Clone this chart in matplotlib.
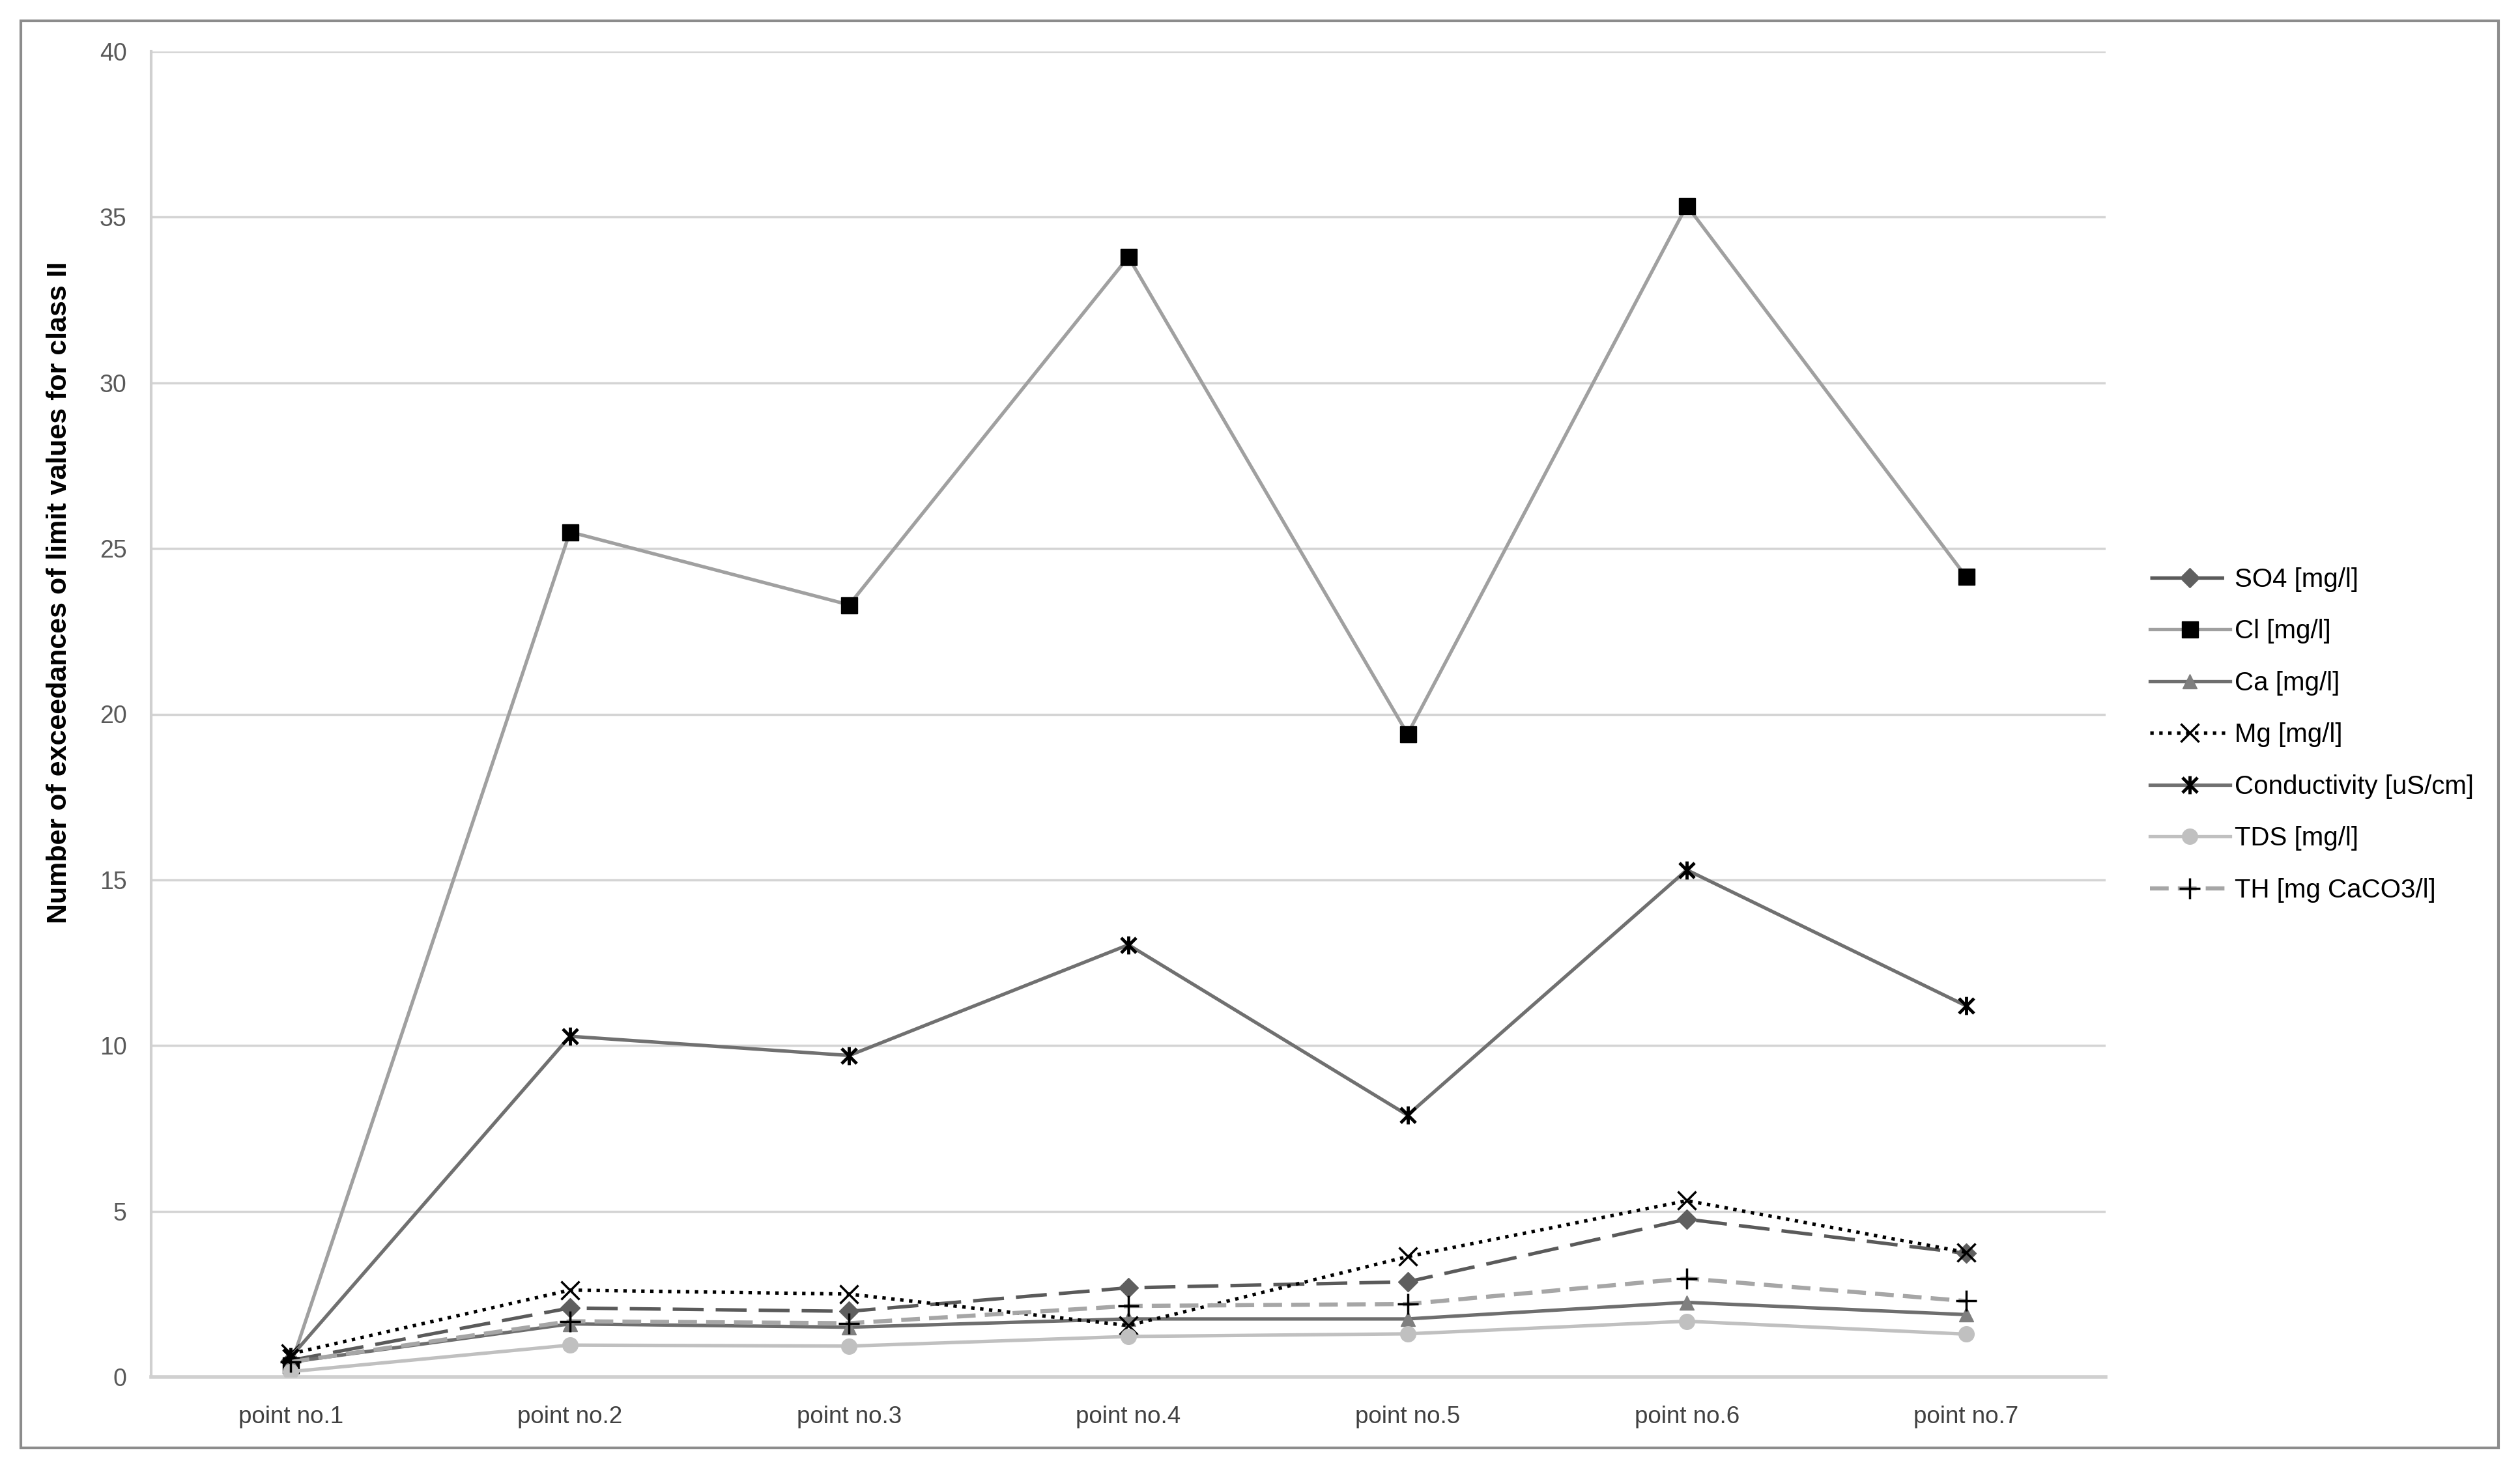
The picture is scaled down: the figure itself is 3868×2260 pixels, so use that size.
import matplotlib
matplotlib.use("Agg")
import matplotlib.pyplot as plt
from matplotlib.path import Path
from matplotlib.patches import Rectangle

categories = ["point no.1", "point no.2", "point no.3", "point no.4",
              "point no.5", "point no.6", "point no.7"]

so4 = [0.5, 2.08, 1.98, 2.69, 2.87, 4.76, 3.73]
cl = [0.35, 25.5, 23.3, 33.8, 19.4, 35.35, 24.15]
ca = [0.45, 1.6, 1.5, 1.75, 1.75, 2.25, 1.88]
mg = [0.7, 2.62, 2.5, 1.55, 3.63, 5.32, 3.76]
cond = [0.6, 10.28, 9.7, 13.04, 7.9, 15.3, 11.2]
tds = [0.16, 0.96, 0.93, 1.22, 1.3, 1.68, 1.29]
th = [0.45, 1.68, 1.62, 2.14, 2.2, 2.97, 2.29]

labels = ["SO4 [mg/l]", "Cl [mg/l]", "Ca [mg/l]", "Mg [mg/l]",
          "Conductivity [uS/cm]", "TDS [mg/l]", "TH [mg CaCO3/l]"]

plt.rcParams['font.family'] = ['Liberation Sans', 'DejaVu Sans']

W, H = 3868, 2260
fig = plt.figure(figsize=(W / 100, H / 100), dpi=100)
ax = fig.add_axes([232 / W, 1 - 2114 / H, (3232 - 232) / W, (2114 - 79) / H])

x = list(range(len(categories)))

# Excel-style star marker (X with vertical bar)
star = Path([(-1, -1), (1, 1), (-1, 1), (1, -1), (0, -1.2), (0, 1.2)],
            [Path.MOVETO, Path.LINETO, Path.MOVETO, Path.LINETO, Path.MOVETO, Path.LINETO])

lw = 3.8
ax.plot(x, so4, color="#5a5a5a", lw=lw, linestyle=(0, (9, 3.5)), marker="D",
        ms=15, mfc="#5f5f5f", mec="#5f5f5f", label=labels[0], zorder=3)
ax.plot(x, cl, color="#a0a0a0", lw=lw, marker="s", ms=18, mfc="black",
        mec="black", label=labels[1], zorder=3)
ax.plot(x, ca, color="#6e6e6e", lw=lw, marker="^", ms=16, mfc="#7f7f7f",
        mec="#7f7f7f", label=labels[2], zorder=3)
ax.plot(x, mg, color="black", lw=lw, linestyle=(0, (1, 1.6)), marker="x",
        ms=20, mec="black", mew=2.5, label=labels[3], zorder=3)
ax.plot(x, cond, color="#707070", lw=lw, marker=star, ms=20, mec="black",
        mfc="none", mew=3.5, label=labels[4], zorder=3)
ax.plot(x, tds, color="#c0c0c0", lw=lw, marker="o", ms=17, mfc="#c0c0c0",
        mec="#c0c0c0", label=labels[5], zorder=3)
ax.plot(x, th, color="#a6a6a6", lw=lw + 0.8, linestyle=(0, (4.5, 2.2)), marker="+",
        ms=23, mec="black", mew=2.5, label=labels[6], zorder=3)

ax.set_xlim(-0.5, len(categories) - 0.5)
ax.set_ylim(0, 40)
ax.set_yticks(range(0, 41, 5))
ax.set_xticks(x)
ax.set_xticklabels(categories)
ax.tick_params(axis="x", length=0, labelsize=26.5, colors="#404040", pad=32)
ax.tick_params(axis="y", length=0, labelsize=27, labelcolor="#595959", pad=27)
ax.grid(axis="y", color="#d4d4d4", lw=2.5)
ax.set_axisbelow(True)
for s in ["top", "right"]:
    ax.spines[s].set_visible(False)
ax.spines["left"].set_color("#d0d0d0")
ax.spines["left"].set_linewidth(3)
ax.spines["bottom"].set_color("#d0d0d0")
ax.spines["bottom"].set_linewidth(4)

fig.text(91 / W, 1 - 910 / H, "Number of exceedances of limit values for class II",
         rotation=90, ha="center", va="center", fontsize=31, fontweight="bold")

fig.legend(loc="upper left", bbox_to_anchor=(3300 / W, 1 - 871 / H), frameon=False,
           fontsize=29, handlelength=3.05, handletextpad=0.18, labelspacing=1.03,
           borderpad=0, borderaxespad=0)

fig.patches.append(Rectangle((32 / W, 1 - 2223 / H), (3835 - 32) / W, (2223 - 32) / H,
                             transform=fig.transFigure, fill=False, ec="#8c8c8c", lw=3))

fig.savefig("out.png", dpi=100)
